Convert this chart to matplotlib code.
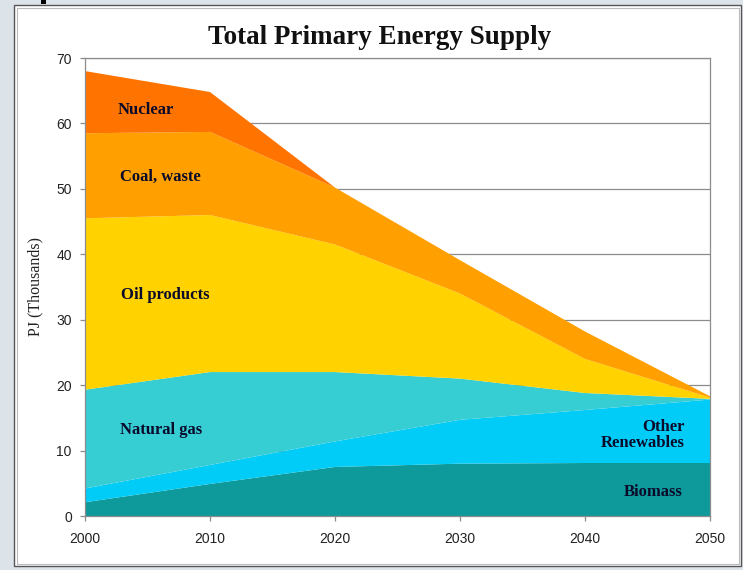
import matplotlib.pyplot as plt
from matplotlib.patches import Rectangle

years = [2000, 2010, 2020, 2030, 2040, 2050]
biomass = [2.1, 4.9, 7.5, 8.0, 8.1, 8.1]
other_ren = [2.1, 2.9, 3.9, 6.7, 8.1, 9.7]
natural_gas = [15.1, 14.2, 10.6, 6.3, 2.6, 0.1]
oil = [26.2, 24.0, 19.5, 13.0, 5.2, 0.2]
coal = [13.0, 12.7, 8.7, 5.1, 4.2, 0.2]
nuclear = [9.5, 6.1, 0.0, 0.0, 0.0, 0.0]

series = [biomass, other_ren, natural_gas, oil, coal, nuclear]
colors = ['#0E9A9A', '#00CCF7', '#36CDD3', '#FFD200', '#FFA000', '#FF7400']

fig = plt.figure(figsize=(7.43, 5.70), dpi=100, facecolor='#DCE3E9')

# screenshot frame around the chart
W, H = 743, 570
fig.patches.append(Rectangle((14 / W, 1 - 566 / H), (741 - 14) / W, (566 - 5) / H,
                             transform=fig.transFigure, facecolor='white',
                             edgecolor='#555555', lw=1.0, zorder=-10))
fig.patches.append(Rectangle((17 / W, 1 - 564 / H), (739 - 17) / W, (564 - 8) / H,
                             transform=fig.transFigure, facecolor='none',
                             edgecolor='#BBBBBB', lw=0.8, zorder=-9))
fig.patches.append(Rectangle((41 / W, 1 - 4 / H), 5 / W, 4 / H,
                             transform=fig.transFigure, facecolor='black',
                             edgecolor='none', zorder=-8))

ax = fig.add_axes([85 / W, 1 - 516 / H, (710 - 85) / W, (516 - 58) / H])
ax.set_facecolor('white')
ax.stackplot(years, series, colors=colors, lw=0, zorder=2)

ax.set_xlim(2000, 2050)
ax.set_ylim(0, 70)
ax.set_xticks(range(2000, 2051, 10))
ax.set_yticks(range(0, 71, 10))
ax.yaxis.grid(True, color='#8C8C8C', lw=0.9, zorder=0)
ax.set_axisbelow(True)
for s in ax.spines.values():
    s.set_color('#8C8C8C')
    s.set_linewidth(0.9)
ax.tick_params(colors='#8C8C8C', length=3.5, width=0.9, labelcolor='#222222',
               labelsize=10)
ax.tick_params(axis='x', pad=8)
ax.tick_params(axis='y', pad=6)
for lab in ax.get_xticklabels() + ax.get_yticklabels():
    lab.set_family('Liberation Sans')

ax.set_ylabel('PJ (Thousands)', family='Liberation Serif', fontsize=11.5,
              color='#222222', labelpad=9)

fig.text(380 / W, 1 - 37 / H, 'Total Primary Energy Supply', ha='center', va='center',
         family='Liberation Serif', weight='bold', fontsize=19.5, color='#111111')

lab_kw = dict(family='Liberation Serif', weight='bold', fontsize=12, color='#0A0A2A',
              zorder=5)
ax.text(2002.6, 62.0, 'Nuclear', ha='left', va='center', **lab_kw)
ax.text(2002.8, 51.8, 'Coal, waste', ha='left', va='center', **lab_kw)
ax.text(2002.9, 33.8, 'Oil products', ha='left', va='center', **lab_kw)
ax.text(2002.8, 13.1, 'Natural gas', ha='left', va='center', **lab_kw)
ax.text(2048.0, 12.4, 'Other\nRenewables', ha='right', va='center', ma='right',
        linespacing=1.05, **lab_kw)
ax.text(2047.8, 3.6, 'Biomass', ha='right', va='center', **lab_kw)

fig.savefig('out.png', dpi=100, facecolor=fig.get_facecolor())
